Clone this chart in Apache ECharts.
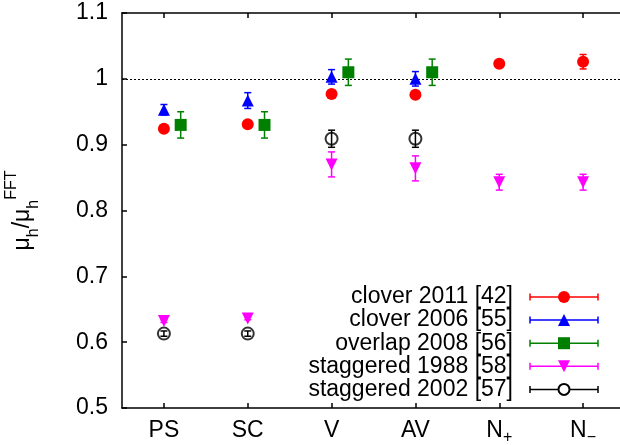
<!DOCTYPE html>
<html><head><meta charset="utf-8">
<script src="https://cdn.jsdelivr.net/npm/echarts@6/dist/echarts.min.js"></script>
<style>html,body{margin:0;padding:0;background:#fff}#c{width:620px;height:445px}</style>
</head><body><div id="c"></div>
<script>
// ---- data ----
const categories = ['PS', 'SC', 'V', 'AV', 'N+', 'N-'];
const yTickValues = [0.5, 0.6, 0.7, 0.8, 0.9, 1.0, 1.1];
const clover2011 = [0.924, 0.931, 0.977, 0.976, 1.023, 1.026];
const clover2011Err = [0.003, 0.003, 0.003, 0.003, 0.004, 0.011];
const clover2006 = [0.953, 0.967, 1.003, 1.000, null, null];
const clover2006Err = [0.008, 0.012, 0.011, 0.011, null, null];
const overlap2008 = [0.930, 0.930, 1.010, 1.010, null, null];
const overlap2008Err = [0.020, 0.020, 0.020, 0.020, null, null];
const staggered1988 = [0.632, 0.636, 0.870, 0.864, 0.843, 0.843];
const staggered1988Err = [0.002, 0.002, 0.019, 0.019, 0.012, 0.012];
const staggered2002 = [0.613, 0.613, 0.909, 0.909, null, null];
const staggered2002Err = [0.004, 0.004, 0.013, 0.013, null, null];
const legendNames = ['clover 2011 [42]', 'clover 2006 [55]', 'overlap 2008 [56]', 'staggered 1988 [58]', 'staggered 2002 [57]'];
const refLine = 1.0;

// ---- styles ----
const FONT = "'Liberation Sans', Arial, sans-serif";
const FS = 23;
const SFS = 16;
const sets = [
  { name: legendNames[0], v: clover2011, e: clover2011Err, color: '#ff0000', symbol: 'circle', size: 12, shift: 0 },
  { name: legendNames[1], v: clover2006, e: clover2006Err, color: '#0000ff', symbol: 'triangle', size: 12, shift: 0 },
  { name: legendNames[2], v: overlap2008, e: overlap2008Err, color: '#008000', symbol: 'rect', size: 12, shift: 0.2 },
  { name: legendNames[3], v: staggered1988, e: staggered1988Err, color: '#ff00ff', symbol: 'triangle', rotate: 180, size: 12, shift: 0 },
  { name: legendNames[4], v: staggered2002, e: staggered2002Err, color: '#000000', symbol: 'circle', size: 12, shift: 0, hollow: true }
];

const chart = echarts.init(document.getElementById('c'), null, { renderer: 'canvas' });
const catPos = categories.map((c, i) => i + 1);

function errRender(color) {
  return function (params, api) {
    const x = api.value(0), y = api.value(1), e = api.value(2);
    const t = api.coord([x, y + e]), b = api.coord([x, y - e]);
    const cw = 3.5;
    const st = { stroke: color, lineWidth: 1.5 };
    return { type: 'group', children: [
      { type: 'line', shape: { x1: t[0], y1: t[1], x2: b[0], y2: b[1] }, style: st },
      { type: 'line', shape: { x1: t[0] - cw, y1: t[1], x2: t[0] + cw, y2: t[1] }, style: st },
      { type: 'line', shape: { x1: b[0] - cw, y1: b[1], x2: b[0] + cw, y2: b[1] }, style: st }
    ] };
  };
}

const series = [];
sets.forEach((s, k) => {
  const pts = [], errs = [];
  s.v.forEach((val, i) => {
    if (val == null) return;
    pts.push([catPos[i] + s.shift, val]);
    if (s.e[i]) errs.push([catPos[i] + s.shift, val, s.e[i]]);
  });
  series.push({
    type: 'custom', name: s.name + ' err', renderItem: errRender(s.color), data: errs,
    z: 2 + k * 2, silent: true, clip: false
  });
  series.push({
    type: 'scatter', name: s.name, data: pts, symbol: s.symbol, symbolSize: s.size,
    symbolRotate: s.rotate || 0, z: 3 + k * 2, silent: true,
    itemStyle: s.hollow ? { color: 'rgba(0,0,0,0)', borderColor: s.color, borderWidth: 2 } : { color: s.color, opacity: 1 }
  });
});
// dotted reference line at 1
series[0].markLine = {
  silent: true, symbol: ['none', 'none'], label: { show: false },
  lineStyle: { type: [2, 2], color: '#000', width: 1 },
  data: [{ yAxis: refLine }]
};

const labelRich = {
  n: { fontSize: FS, fontFamily: FONT, color: '#000', lineHeight: 30, verticalAlign: 'middle' },
  s: { fontSize: SFS, fontFamily: FONT, color: '#000', lineHeight: 14, verticalAlign: 'bottom' }
};
function xLabel(v) {
  const c = categories[Math.round(v) - 1];
  if (!c) return '';
  if (c === 'N+') return '{n|N}{s|+}';
  if (c === 'N-') return '{n|N}{s|\u2212}';
  return '{n|' + c + '}';
}

const axisLine = { show: true, lineStyle: { color: '#000', width: 1.5 } };
const xCommon = { type: 'value', min: 0.5, max: 6.5, splitLine: { show: false }, axisLine };

// legend built with graphic
const graphics = [];
const lx0 = 530, lx1 = 598, lmx = 564, ly0 = 297, ldy = 23.1, ltx = 513;
sets.forEach((s, k) => {
  const y = ly0 + k * ldy;
  graphics.push({ type: 'text', x: ltx, y: y, style: { text: s.name, fill: '#000', font: FS + 'px ' + FONT, textAlign: 'right', textVerticalAlign: 'middle' } });
  const st = { stroke: s.color, lineWidth: 1.5 };
  graphics.push({ type: 'line', shape: { x1: lx0, y1: y, x2: lx1, y2: y }, style: st });
  graphics.push({ type: 'line', shape: { x1: lx0, y1: y - 3.5, x2: lx0, y2: y + 3.5 }, style: st });
  graphics.push({ type: 'line', shape: { x1: lx1, y1: y - 3.5, x2: lx1, y2: y + 3.5 }, style: st });
  const r = s.size / 2;
  if (s.symbol === 'circle' && !s.hollow) graphics.push({ type: 'circle', shape: { cx: lmx, cy: y, r: r }, style: { fill: s.color } });
  else if (s.hollow) graphics.push({ type: 'circle', shape: { cx: lmx, cy: y, r: r - 0.5 }, style: { fill: '#fff', stroke: s.color, lineWidth: 2 } });
  else if (s.symbol === 'rect') graphics.push({ type: 'rect', shape: { x: lmx - r, y: y - r, width: 2 * r, height: 2 * r }, style: { fill: s.color } });
  else if (s.rotate) graphics.push({ type: 'polygon', shape: { points: [[lmx - r, y - r], [lmx + r, y - r], [lmx, y + r]] }, style: { fill: s.color } });
  else graphics.push({ type: 'polygon', shape: { points: [[lmx - r, y + r], [lmx + r, y + r], [lmx, y - r]] }, style: { fill: s.color } });
});

chart.setOption({
  animation: false,
  backgroundColor: '#fff',
  grid: { left: 122, top: 13, width: 503, height: 395, containLabel: false, outerBoundsMode: 'none' },
  xAxis: [
    Object.assign({}, xCommon, {
      position: 'bottom',
      axisTick: { show: true, inside: true, length: 5, customValues: catPos, lineStyle: { color: '#000', width: 1.5 } },
      axisLabel: { show: true, customValues: catPos, margin: 8, formatter: xLabel, rich: labelRich }
    }),
    Object.assign({}, xCommon, {
      position: 'top',
      axisTick: { show: true, inside: true, length: 5, customValues: catPos, lineStyle: { color: '#000', width: 1.5 } },
      axisLabel: { show: false }
    })
  ],
  yAxis: [
    {
      type: 'value', min: yTickValues[0], max: yTickValues[yTickValues.length - 1], interval: 0.1,
      position: 'left', axisLine, splitLine: { show: false },
      axisTick: { show: true, inside: true, length: 5, lineStyle: { color: '#000', width: 1.5 } },
      axisLabel: { margin: 14, color: '#000', fontSize: FS, fontFamily: FONT,
        formatter: v => { const r = Math.round(v * 10) / 10; return r === 1 ? '1' : r.toFixed(1); } },
      name: '{m|\u03bc}{s|h}{m|/\u03bc}{s|h}{p|FFT}',
      nameLocation: 'middle', nameRotate: 90, nameGap: 80,
      nameTextStyle: { rich: {
        m: { fontSize: FS, fontFamily: FONT, color: '#000', lineHeight: 38, verticalAlign: 'middle' },
        s: { fontSize: SFS, fontFamily: FONT, color: '#000', lineHeight: 16, verticalAlign: 'bottom' },
        p: { fontSize: SFS, fontFamily: FONT, color: '#000', lineHeight: 12, verticalAlign: 'top' }
      } }
    },
    {
      type: 'value', min: yTickValues[0], max: yTickValues[yTickValues.length - 1], interval: 0.1,
      position: 'right', axisLine, splitLine: { show: false },
      axisTick: { show: true, inside: true, length: 5, lineStyle: { color: '#000', width: 1.5 } },
      axisLabel: { show: false }
    }
  ],
  series: series,
  graphic: graphics
});
</script>
</body></html>
